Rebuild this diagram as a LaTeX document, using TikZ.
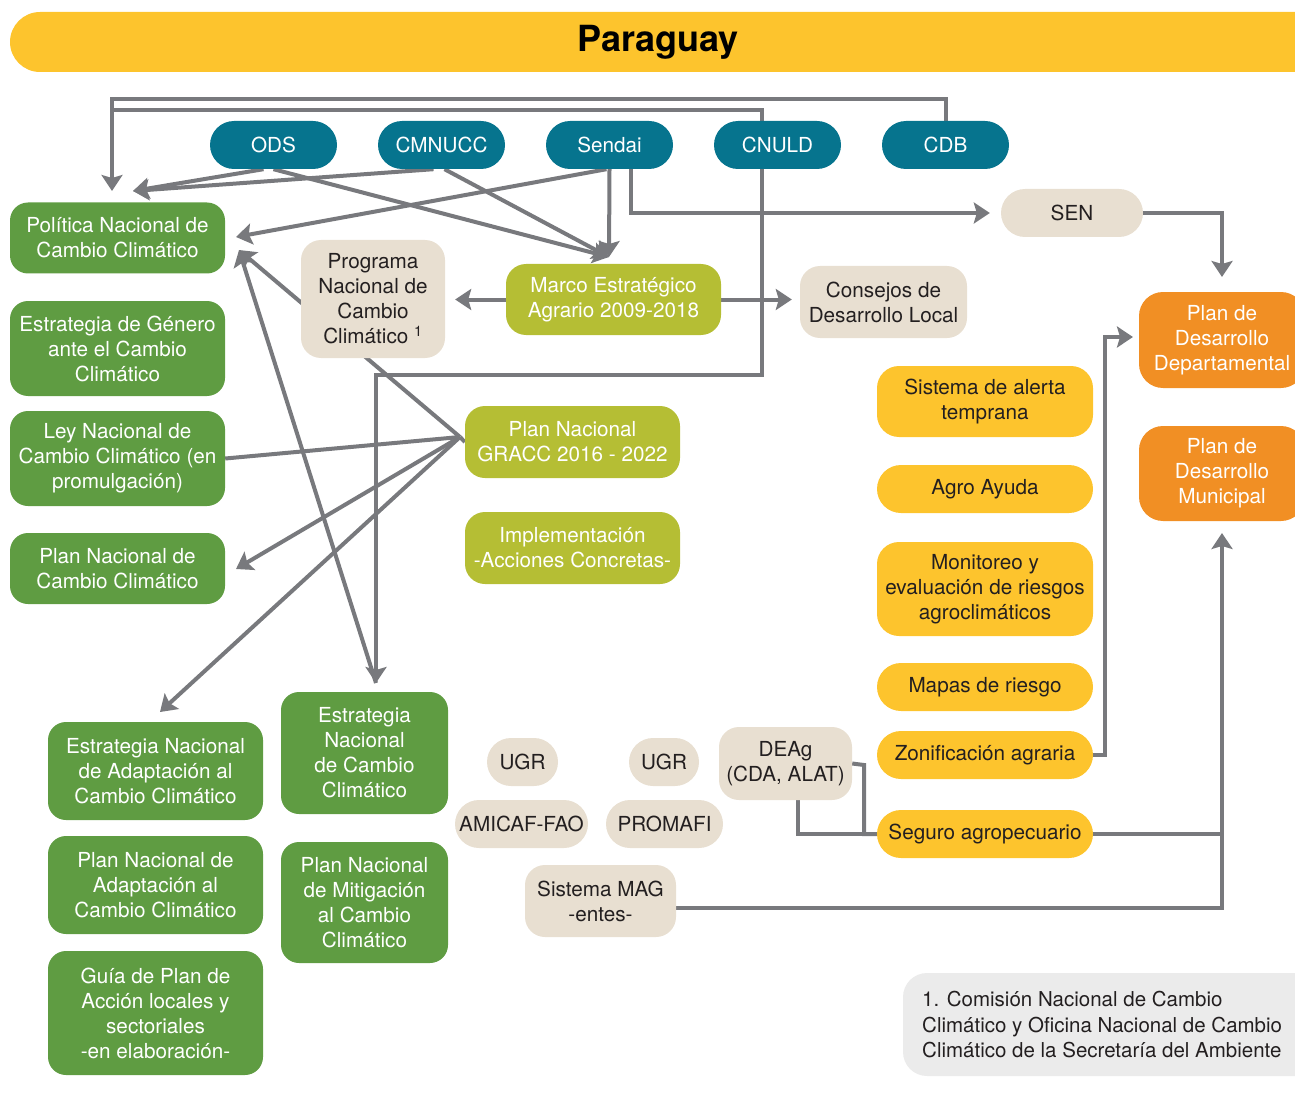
\documentclass[tikz,border=0pt]{standalone}
\usepackage{fontspec}
\setmainfont{TeX Gyre Heros}
\usetikzlibrary{arrows.meta,calc}

\definecolor{cteal}{RGB}{6,116,142}
\definecolor{cgreen}{RGB}{95,156,66}
\definecolor{colive}{RGB}{181,190,52}
\definecolor{cbeige}{RGB}{232,223,209}
\definecolor{cyellow}{RGB}{253,196,45}
\definecolor{corange}{RGB}{241,143,36}
\definecolor{cline}{RGB}{120,121,125}
\definecolor{cfoot}{RGB}{235,235,235}
\definecolor{cdark}{RGB}{35,31,32}

\pgfdeclarelayer{bg}
\pgfsetlayers{bg,main}

\begin{document}
\begin{tikzpicture}[x=1pt,y=-1pt,
  base/.style={align=center, inner sep=0pt, font=\fontsize{20.7}{25}\selectfont},
  gbox/.style={base, fill=cgreen, text=white, rounded corners=18pt},
  obox/.style={base, fill=colive, text=white, rounded corners=20pt},
  bbox/.style={base, fill=cbeige, text=cdark, rounded corners=20pt},
  ybox/.style={base, fill=cyellow, text=cdark, rounded corners=22pt},
  rbox/.style={base, fill=corange, text=white, rounded corners=24pt},
  tpill/.style={base, fill=cteal, text=white, rounded corners=24pt,
    minimum width=127pt, minimum height=48pt},
  pill/.style={rounded corners=24pt, minimum height=48pt},
  conn/.style={draw=cline, line width=4pt},
  arr/.style={conn, -{Stealth[length=16pt,width=21pt,inset=3pt]}},
]
\path[use as bounding box, clip] (0,0) rectangle (1295,1099);

% heading band
\fill[cyellow, rounded corners=30pt] (10,12) rectangle (1340,72);
\node[font=\fontsize{36}{40}\selectfont\bfseries, text=black] (title) at (658,42) {Paraguay};

% international frameworks
\node[tpill] (ods)    at (273.5,145) {ODS};
\node[tpill] (cmnucc) at (441.5,145) {CMNUCC};
\node[tpill] (sendai) at (609.5,145) {Sendai};
\node[tpill] (cnuld)  at (777.5,145) {CNULD};
\node[tpill] (cdb)    at (945.5,145) {CDB};

% national policies (left column)
\node[gbox, minimum width=215pt, minimum height=71pt] (pol) at (117.5,238) {Política Nacional de\\Cambio Climático};
\node[gbox, minimum width=215pt, minimum height=95pt] (gen) at (117.5,348.5) {Estrategia de Género\\ante el Cambio\\Climático};
\node[gbox, minimum width=215pt, minimum height=95pt] (ley) at (117.5,458.5) {Ley Nacional de\\Cambio Climático (en\\promulgación)};
\node[gbox, minimum width=215pt, minimum height=71pt] (pnc) at (117.5,568.5) {Plan Nacional de\\Cambio Climático};
\node[gbox, minimum width=215pt, minimum height=98pt] (ena) at (155.5,771) {Estrategia Nacional\\de Adaptación al\\Cambio Climático};
\node[gbox, minimum width=215pt, minimum height=98pt] (pna) at (155.5,885) {Plan Nacional de\\Adaptación al\\Cambio Climático};
\node[gbox, minimum width=215pt, minimum height=124pt] (gui) at (155.5,1013) {Guía de Plan de\\Acción locales y\\sectoriales\\-en elaboración-};
\node[gbox, minimum width=167pt, minimum height=122pt] (encc) at (364.5,753) {Estrategia\\Nacional\\de Cambio\\Climático};
\node[gbox, minimum width=167pt, minimum height=121pt] (pnm) at (364.5,902.5) {Plan Nacional\\de Mitigación\\al Cambio\\Climático};

% institutions
\node[bbox, minimum width=144pt, minimum height=118pt] (prog) at (373,299) {Programa\\Nacional de\\Cambio\\Climático \textsuperscript{1}};
\node[bbox, minimum width=167pt, minimum height=72pt] (cons) at (883.5,302) {Consejos de\\Desarrollo Local};
\node[bbox, pill, minimum width=142pt] (sen) at (1072,213) {SEN};
\node[bbox, pill, minimum width=71pt] (ugra) at (522.5,762) {UGR};
\node[bbox, pill, minimum width=70pt] (ugrb) at (664,762) {UGR};
\node[bbox, pill, minimum width=133pt] (amicaf) at (521.5,824) {AMICAF-FAO};
\node[bbox, pill, minimum width=117pt] (promafi) at (664.5,824) {PROMAFI};
\node[bbox, minimum width=133pt, minimum height=73pt] (deag) at (785.5,763.5) {DEAg\\(CDA, ALAT)};
\node[bbox, minimum width=151pt, minimum height=72pt] (mag) at (600.5,901) {Sistema MAG\\-entes-};

% agrarian framework
\node[obox, minimum width=215pt, minimum height=71pt] (marco) at (613.5,299.5) {Marco Estratégico\\Agrario 2009-2018};
\node[obox, minimum width=215pt, minimum height=72pt] (gracc) at (572.5,442) {Plan Nacional\\GRACC 2016 - 2022};
\node[obox, minimum width=215pt, minimum height=72pt] (impl) at (572.5,548) {Implementación\\-Acciones Concretas-};

% instruments
\node[ybox, minimum width=216pt, minimum height=71pt] (alerta) at (985,401.5) {Sistema de alerta\\temprana};
\node[ybox, pill, minimum width=216pt] (agro) at (985,489) {Agro Ayuda};
\node[ybox, minimum width=216pt, minimum height=94pt] (moni) at (985,589) {Monitoreo y\\evaluación de riesgos\\agroclimáticos};
\node[ybox, pill, minimum width=216pt] (mapas) at (985,687) {Mapas de riesgo};
\node[ybox, pill, minimum width=216pt] (zon) at (985,755) {Zonificación agraria};
\node[ybox, pill, minimum width=216pt] (seg) at (985,834) {Seguro agropecuario};

% local plans
\node[rbox, minimum width=166pt, minimum height=96pt] (dep) at (1222,340) {Plan de\\Desarrollo\\Departamental};
\node[rbox, minimum width=166pt, minimum height=95pt] (mun) at (1222,473.5) {Plan de\\Desarrollo\\Municipal};

% footnote
\node[base, align=left, text=cdark, anchor=west, font=\fontsize{20.5}{25.5}\selectfont] (foot) at (922,1025)
  {1. Comisión Nacional de Cambio\\Climático y Oficina Nacional de Cambio\\Climático de la Secretaría del Ambiente};

% connector end points
\coordinate (tPolTop) at (112,191);
\coordinate (tPolTR)  at (133,191);
\coordinate (tPolR)   at (236,237);
\coordinate (tPolRB)  at (239,250);
\coordinate (tMarco)  at (609,257);
\coordinate (tEncc)   at (376,683);
\coordinate (gp)      at (460,437);
\coordinate (tPnc)    at (236,569);
\coordinate (tEna)    at (160,712);
\coordinate (tDep)    at (1222,277);
\coordinate (tDepL)   at (1133,337);
\coordinate (tMun)    at (1222,533);

\begin{pgfonlayer}{bg}
  \fill[cfoot, rounded corners=24pt] (903,973) rectangle (1340,1076);

  % CDB and CNULD feed the policy column from above
  \draw[arr] (cdb.north) |- (112,99) -- (tPolTop);
  \draw[arr] (112,110) -| (762,375) -| (tEncc);

  % ODS / CMNUCC / Sendai
  \draw[arr] ($(ods.south)+(-10,0)$) -- (tPolTR);
  \draw[arr] ($(cmnucc.south)+(-8,0)$) -- (tPolTR);
  \draw[arr] (ods.south) -- (tMarco);
  \draw[arr] ($(cmnucc.south)+(3,0)$) -- (tMarco);
  \draw[arr] (sendai.south) -- (tMarco);
  \draw[arr] ($(sendai.south)+(-3,0)$) -- (tPolR);
  \draw[arr] ($(sendai.south)+(21,0)$) |- ($(sen.west)+(-11,0)$);

  % SEN to departmental plan
  \draw[arr] (sen.east) -| (tDep);

  % Marco Estratégico
  \draw[arr] (marco.west) -- ($(marco.west -| prog.east)+(10,0)$);
  \draw[arr] (marco.east) -- ($(marco.east -| cons.west)+(-8,0)$);

  % GRACC fan
  \draw[arr] (gp) -- (tPolRB);
  \draw[conn] (gp) -- (ley.east);
  \draw[arr] (gp) -- (tPnc);
  \draw[arr] (gp) -- (tEna);
  \draw[conn] (gracc.west) -- (gp);
  \draw[arr] (tEncc) -- (tPolRB);

  % instruments to local plans
  \draw[arr] (zon.east) -- (1105,755) |- (tDepL);
  \draw[conn] (deag.east) -- (864,765) |- (seg.west);
  \draw[conn] ($(deag.south)+(12,0)$) |- (seg.west);
  \draw[conn] (seg.east) -- (1222,834);
  \draw[arr] ($(mag.east)+(0,7)$) -| (tMun);
\end{pgfonlayer}
\end{tikzpicture}
\end{document}
